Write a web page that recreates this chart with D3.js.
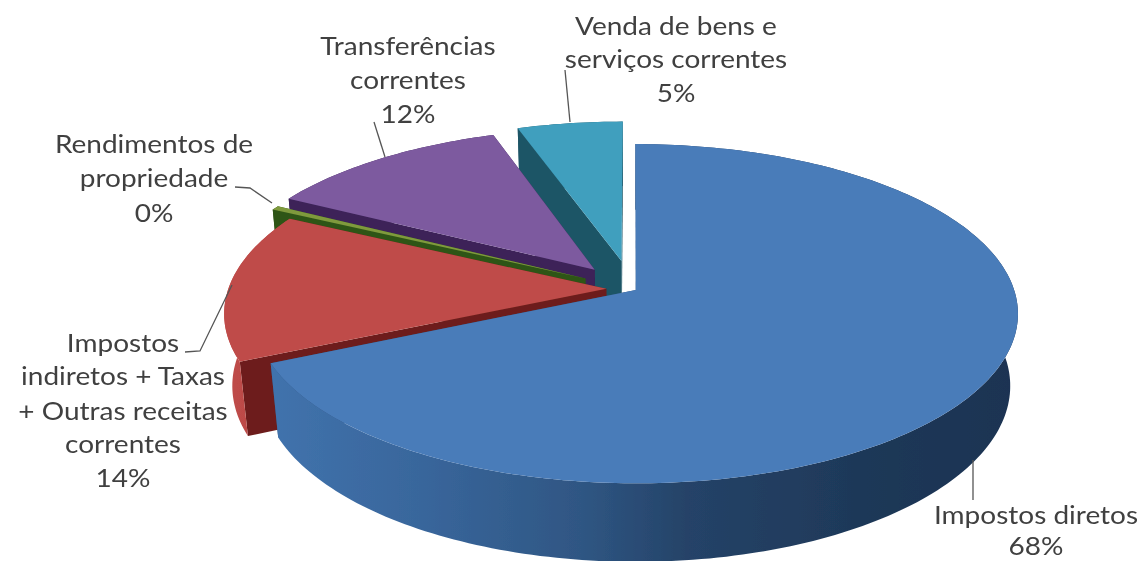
<!DOCTYPE html>
<html><head><meta charset="utf-8">
<script src="https://cdn.jsdelivr.net/npm/d3@7"></script>
<style>html,body{margin:0;padding:0;background:#fff}svg{display:block}</style>
</head><body><svg id="c" width="1142" height="561"></svg>
<script>
const categories = ["Impostos diretos","Impostos indiretos + Taxas + Outras receitas correntes","Rendimentos de propriedade","Transferências correntes","Venda de bens e serviços correntes"];
const values = [68.2,14.2,0.4,12.0,5.2];
const explode = [0.012,0.068,0.14,0.155,0.175];
const topColors = ["#4a7cb9","#bf4c49","#7f9a3c","#7d5a9f","#3f9fbe"];
const cutColors = ["#2c4f7a","#6d1f1c","#2f5418","#3c2358","#1f5566"];
const labelLines = [
  ["Impostos diretos"],
  ["Impostos","indiretos + Taxas","+ Outras receitas","correntes"],
  ["Rendimentos de","propriedade"],
  ["Transferências","correntes"],
  ["Venda de bens e","serviços correntes"]
];
const labelX = [1036,123,154,408,676];
const labelY = [[524,555],[352,385,420,453,487],[153,187,222],[55,89,123],[35,68,102]];
const leaders = [
  [[973,460],[973,500]],
  [[232,285],[200,351],[185,352]],
  [[272,203],[250,188],[235,187]],
  [[385,157],[374,122]],
  [[570,122],[565,70]]
];

const svg=d3.select("#c");
const CX=632,CY=289,R=378,K=166,P=0.139,Q=0.02,M=73;
// disc coords (u,v), z = 0 top / 1 bottom -> screen
const project=(u,v,z)=>{const w=1+P*v+Q*z;return [CX+R*u/w,CY-(K*v-M*z)/w];};
const pie=d3.pie().sort(null).value(d=>d)(values);
const line=d3.line();
const defs=svg.append("defs");
const gradDefs=[
 {id:"g0",stops:[[0,"#4173ad"],[0.22,"#38659a"],[0.42,"#2f5683"],[0.56,"#254368"],[0.8,"#1e3858"],[1,"#1b3352"]],x1:268,x2:1015},
 {id:"g1",stops:[[0,"#bf4c49"],[1,"#b84643"]],x1:225,x2:295},
 {id:"g2",stops:[[0,"#2f5418"],[1,"#2f5418"]],x1:260,x2:290},
 {id:"g3",stops:[[0,"#3c2358"],[1,"#3c2358"]],x1:290,x2:510},
 {id:"g4",stops:[[0,"#1f5566"],[1,"#1f5566"]],x1:520,x2:625}
];
gradDefs.forEach(g=>{
  const lg=defs.append("linearGradient").attr("id",g.id).attr("gradientUnits","userSpaceOnUse")
    .attr("x1",g.x1).attr("x2",g.x2).attr("y1",0).attr("y2",0);
  g.stops.forEach(s=>lg.append("stop").attr("offset",s[0]).attr("stop-color",s[1]));
});
const blur=defs.append("filter").attr("id","soft").attr("x","-5%").attr("y","-5%").attr("width","110%").attr("height","110%");
blur.append("feGaussianBlur").attr("stdDeviation",0.55);

const g=svg.append("g").attr("filter","url(#soft)");
[4,3,2,1,0].forEach(i=>{
  const s=pie[i], mid=(s.startAngle+s.endAngle)/2, e=explode[i];
  const ox=e*Math.sin(mid), oy=e*Math.cos(mid);
  const n=Math.max(2,Math.ceil((s.endAngle-s.startAngle)/0.02));
  const angles=d3.range(n+1).map(k=>s.startAngle+(s.endAngle-s.startAngle)*k/n);
  const rim=z=>angles.map(a=>project(ox+Math.sin(a),oy+Math.cos(a),z));
  const apex=z=>project(ox,oy,z);
  const rt=rim(0), rb=rim(1);
  [[rt[0],rb[0]],[rt[n],rb[n]]].forEach(([a,b])=>{
    g.append("path").attr("d",line([apex(0),a,b,apex(1)])+"Z").attr("fill",cutColors[i]);
  });
  g.append("path").attr("d",line(rt.concat(rb.slice().reverse()))+"Z").attr("fill",`url(#g${i})`);
  g.append("path").attr("d",line([apex(0)].concat(rt))+"Z").attr("fill",topColors[i]);
});

const lg=svg.append("g").attr("filter","url(#soft)");
leaders.forEach(l=>lg.append("path").attr("d",line(l)).attr("fill","none").attr("stroke","#555").attr("stroke-width",1.3));
const tg=svg.append("g").attr("filter","url(#soft)").attr("font-family","Lato, 'Open Sans', sans-serif").attr("font-size",25).attr("fill","#404040").attr("text-anchor","middle");
const fmt=d3.format(".0f");
categories.forEach((c,i)=>{
  const lines=labelLines[i].concat([fmt(values[i])+"%"]);
  lines.forEach((t,j)=>tg.append("text").attr("transform",`translate(${labelX[i]},${labelY[i][j]}) scale(1.12,1)`).text(t));
});
</script></body></html>
